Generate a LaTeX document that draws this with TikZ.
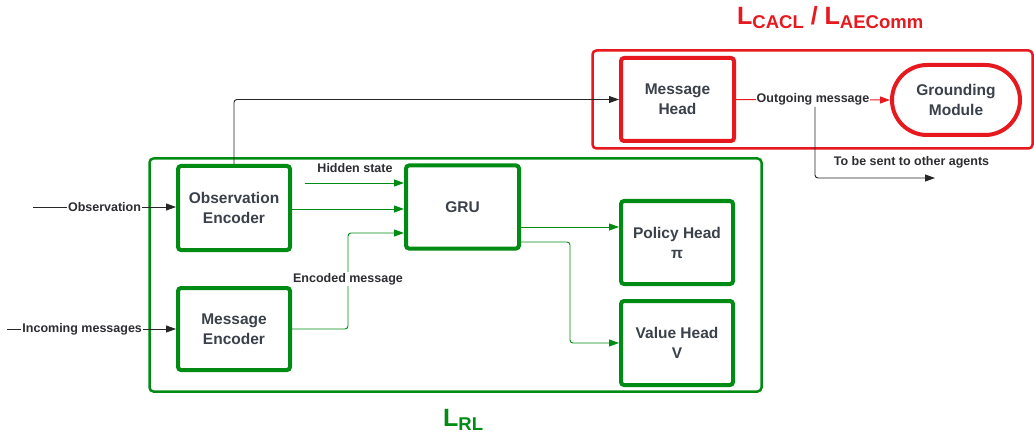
\documentclass[tikz,border=0pt]{standalone}
\usepackage{fontspec}
\setmainfont{Liberation Sans}
\usetikzlibrary{arrows.meta,calc}
\definecolor{rlgreen}{RGB}{0,140,20}
\definecolor{commred}{RGB}{230,25,30}
\definecolor{boxtext}{RGB}{58,65,74}
\definecolor{labeltext}{RGB}{45,45,50}
\tikzset{
  block/.style={draw=#1, line width=4pt, rounded corners=3pt, fill=white,
    text=boxtext, align=center, font=\bfseries\fontsize{15.5}{20}\selectfont,
    minimum width=112pt, minimum height=83pt, inner sep=2pt},
  frame/.style={draw=#1, line width=2.5pt, rounded corners=4pt},
  tip/.style={-{Triangle[length=10pt,width=7pt]}},
  blackline/.style={tip, draw=black!85, line width=0.9pt},
  greenline/.style={tip, draw=rlgreen, line width=0.9pt, rounded corners=3pt},
  redline/.style={tip, draw=commred, line width=1pt},
  lbl/.style={text=labeltext, font=\bfseries\fontsize{12.5}{14}\selectfont, inner sep=1pt},
  onlbl/.style={lbl, fill=white},
  bigL/.style={font=\bfseries\fontsize{25}{25}\selectfont, inner sep=0pt, anchor=base west}
}
\newcommand{\lossname}[1]{L\raisebox{-3.5pt}{\fontsize{18.5}{18.5}\selectfont #1}}
\begin{document}
\begin{tikzpicture}[x=1pt, y=-1pt]
\useasboundingbox (0,0) rectangle (1034,433);

% enclosing frames
\draw[frame=rlgreen] (149.5,158.5) rectangle (761.5,391.5);
\draw[frame=commred] (592.5,50.5) rectangle (1032.5,148.5);

% loss labels
\node[bigL, text=commred] (losscomm) at (737,25) {\lossname{CACL} / \lossname{AEComm}};
\node[bigL, text=rlgreen] (lossrl) at (443,426.5) {\lossname{RL}};

% blocks
\node[block=rlgreen, minimum height=84pt] (obsenc) at (234,208) {Observation\\Encoder};
\node[block=rlgreen, minimum height=82pt] (msgenc) at (234,329) {Message\\Encoder};
\node[block=rlgreen, minimum width=113pt] (gru) at (462.5,207) {GRU};
\node[block=rlgreen] (policy) at (677,242.5) {Policy Head\\π};
\node[block=rlgreen, minimum height=84pt] (value) at (677,343) {Value Head\\V};
\node[block=commred, minimum width=113pt] (msghead) at (677.5,99.5) {Message\\Head};
\node[block=commred, minimum width=128pt, minimum height=70pt, rounded corners=35pt]
  (ground) at (956,100) {Grounding\\Module};

% free ends and bend points
\coordinate (obsin) at (33,207);
\coordinate (msgin) at (7,329);
\coordinate (hidin) at (305,183);
\coordinate (encbend) at (348,233);
\coordinate (gruout) at ($(gru.east)+(0,35)$);
\coordinate (valbend) at (570,242);
\coordinate (split) at (815,107);
\coordinate (toagents) at (935,178);

% inputs
\draw[blackline] (obsin) -- node[onlbl, pos=0.5] {Observation} (obsin -| obsenc.west);
\draw[blackline] (msgin) -- node[onlbl, pos=0.445] {Incoming messages} (msgin -| msgenc.west);

% recurrent core
\draw[greenline] (hidin) -- (hidin -| gru.west);
\node[lbl] (hidlbl) at (355,168) {Hidden state};
\draw[greenline] ($(obsenc.east)+(0,1)$) -- ($(obsenc.east -| gru.west)+(0,1)$);
\draw[greenline] (msgenc.east) -| (encbend) -- (encbend -| gru.west);
\node[onlbl] (enclbl) at (348,279) {Encoded message};

% heads
\draw[greenline] ($(gru.east)+(0,20)$) -- ($(gru.east -| policy.west)+(0,20)$);
\draw[greenline] (gruout) -- (valbend) |- (value.west);

% communication branch
\draw[blackline, rounded corners=3pt] (obsenc.north) |- (msghead.west);
\draw[redline] (msghead.east) -- node[onlbl, pos=0.5] {Outgoing message} (ground.west);
\draw[blackline, rounded corners=3pt] (split) |- (toagents);
\node[lbl] (sentlbl) at (911.5,162.5) {To be sent to other agents};
\end{tikzpicture}
\end{document}
